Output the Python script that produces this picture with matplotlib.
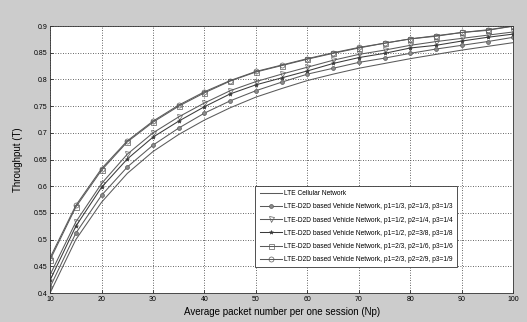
import numpy as np
import matplotlib.pyplot as plt

plt.rcParams['font.family'] = ['Liberation Sans', 'DejaVu Sans']

Np = [10, 15, 20, 25, 30, 35, 40, 45, 50, 55, 60, 65, 70, 75, 80, 85, 90, 95, 100]

lte = [0.400, 0.500, 0.570, 0.624, 0.665, 0.697, 0.724, 0.747, 0.767, 0.783, 0.798, 0.810, 0.821, 0.830, 0.839, 0.847, 0.855, 0.862, 0.869]
p333 = [0.411, 0.512, 0.583, 0.636, 0.677, 0.709, 0.737, 0.760, 0.779, 0.795, 0.810, 0.821, 0.832, 0.840, 0.849, 0.857, 0.864, 0.871, 0.879]
p244 = [0.434, 0.533, 0.605, 0.660, 0.700, 0.730, 0.756, 0.779, 0.796, 0.810, 0.823, 0.836, 0.847, 0.855, 0.864, 0.871, 0.877, 0.883, 0.889]
p238 = [0.424, 0.525, 0.598, 0.651, 0.692, 0.722, 0.749, 0.773, 0.790, 0.803, 0.816, 0.830, 0.841, 0.849, 0.859, 0.864, 0.872, 0.879, 0.885]
p266 = [0.462, 0.561, 0.630, 0.683, 0.720, 0.750, 0.775, 0.797, 0.814, 0.826, 0.838, 0.849, 0.859, 0.868, 0.876, 0.881, 0.888, 0.892, 0.900]
p299 = [0.466, 0.564, 0.633, 0.685, 0.722, 0.752, 0.777, 0.798, 0.815, 0.827, 0.839, 0.850, 0.860, 0.868, 0.876, 0.882, 0.888, 0.893, 0.900]

labels = ["LTE Cellular Network",
          "LTE-D2D based Vehicle Network, p1=1/3, p2=1/3, p3=1/3",
          "LTE-D2D based Vehicle Network, p1=1/2, p2=1/4, p3=1/4",
          "LTE-D2D based Vehicle Network, p1=1/2, p2=3/8, p3=1/8",
          "LTE-D2D based Vehicle Network, p1=2/3, p2=1/6, p3=1/6",
          "LTE-D2D based Vehicle Network, p1=2/3, p2=2/9, p3=1/9"]

fig = plt.figure(figsize=(5.27, 3.22), dpi=100, facecolor='#cccccc')
ax = fig.add_axes([0.095, 0.09, 0.879, 0.829])

lc = '#5a5a5a'
ax.plot(Np, lte, '-', color=lc, lw=0.75, label=labels[0])
ax.plot(Np, p333, '-o', color=lc, lw=0.75, ms=2.8, mfc='#8a8a8a', mew=0.5, label=labels[1])
ax.plot(Np, p244, '-v', color=lc, lw=0.75, ms=3.6, mfc='none', mew=0.5, label=labels[2])
ax.plot(Np, p238, '-*', color='#3a3a3a', lw=0.75, ms=3, mew=0.4, label=labels[3])
ax.plot(Np, p266, '-s', color=lc, lw=0.75, ms=3.6, mfc='none', mew=0.5, label=labels[4])
ax.plot(Np, p299, '-o', color=lc, lw=0.75, ms=3.6, mfc='none', mew=0.5, label=labels[5])

ax.set_xlim(10, 100)
ax.set_ylim(0.4, 0.9)
ax.set_xticks(range(10, 101, 10))
ax.set_yticks(np.arange(0.4, 0.901, 0.05))
ax.set_yticklabels(['0.4', '0.45', '0.5', '0.55', '0.6', '0.65', '0.7', '0.75', '0.8', '0.85', '0.9'])
ax.tick_params(labelsize=5, length=2, width=0.5, direction='in', pad=2)
ax.grid(True, linestyle=(0, (1, 2)), color='#333333', lw=0.6)
for s in ax.spines.values():
    s.set_linewidth(0.6)
    s.set_color('#333333')

ax.set_xlabel("Average packet number per one session (Np)", fontsize=7, labelpad=3)
ax.set_ylabel("Throughput (T)", fontsize=7, labelpad=8)

leg = ax.legend(loc='upper left', bbox_to_anchor=(0.443, 0.401), borderaxespad=0,
                fontsize=4.8, fancybox=False, edgecolor='#333333', framealpha=1,
                handlelength=3.3, handletextpad=0.4, labelspacing=0.92, borderpad=0.65)
leg.get_frame().set_linewidth(0.6)

plt.savefig("out.png", dpi=100, facecolor=fig.get_facecolor())
